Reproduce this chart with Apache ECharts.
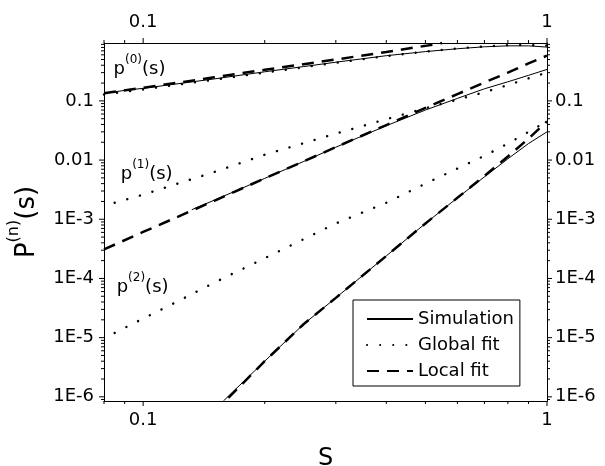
<!DOCTYPE html>
<html>
<head>
<meta charset="utf-8">
<script src="https://cdn.jsdelivr.net/npm/echarts@6/dist/echarts.min.js"></script>
<style>
  html, body { margin: 0; padding: 0; background: #fff; }
  #chart { width: 605px; height: 466px; }
</style>
</head>
<body>
<div id="chart"></div>
<script>
// p(0)(s): simulation, global fit, local fit
const simX0 = [0.08, 0.09, 0.1, 0.12, 0.15, 0.2, 0.25, 0.3, 0.4, 0.5, 0.6, 0.7, 0.8, 0.9, 1.0];
const simY0 = [0.135, 0.15, 0.163, 0.192, 0.235, 0.31, 0.38, 0.45, 0.58, 0.68, 0.76, 0.82, 0.85, 0.85, 0.81];
const gloX0 = [0.08, 0.09, 0.1, 0.12, 0.15, 0.2, 0.25, 0.3, 0.4, 0.5, 0.6, 0.7, 0.8, 0.9, 1.0];
const gloY0 = [0.128, 0.143, 0.156, 0.185, 0.228, 0.3, 0.37, 0.44, 0.57, 0.68, 0.77, 0.83, 0.87, 0.88, 0.86];
const locX0 = [0.08, 0.1, 0.15, 0.2, 0.3, 0.4, 0.5, 0.55];
const locY0 = [0.135, 0.166, 0.25, 0.335, 0.5, 0.67, 0.85, 0.95];

// p(1)(s)
const simX1 = [0.132, 0.15, 0.2, 0.25, 0.3, 0.4, 0.5, 0.6, 0.7, 0.8, 0.9, 1.0];
const simY1 = [1.45e-3, 2.1e-3, 4.9e-3, 9.5e-3, 0.0165, 0.038, 0.07, 0.11, 0.16, 0.21, 0.27, 0.34];
const gloX1 = [0.085, 0.1, 0.15, 0.2, 0.3, 0.4, 0.5, 0.6, 0.7, 0.8, 0.9, 1.0];
const gloY1 = [1.9e-3, 2.6e-3, 6.3e-3, 0.0123, 0.028, 0.049, 0.075, 0.105, 0.14, 0.185, 0.24, 0.3];
const locX1 = [0.08, 0.1, 0.15, 0.2, 0.3, 0.4, 0.5, 0.6, 0.7, 0.8, 0.9, 1.0];
const locY1 = [3.1e-4, 6.1e-4, 2.05e-3, 4.9e-3, 0.0165, 0.039, 0.076, 0.13, 0.205, 0.3, 0.43, 0.58];

// p(2)(s)
const simX2 = [0.158, 0.2, 0.25, 0.3, 0.4, 0.5, 0.6, 0.7, 0.8, 0.9, 1.0];
const simY2 = [8.5e-7, 4e-6, 1.7e-5, 4.7e-5, 2.4e-4, 8.5e-4, 2.3e-3, 5.2e-3, 0.0105, 0.019, 0.03];
const gloX2 = [0.085, 0.1, 0.12, 0.15, 0.2, 0.3, 0.4, 0.5, 0.6, 0.7, 0.8, 0.9, 1.0];
const gloY2 = [1.2e-5, 2.1e-5, 3.9e-5, 8.5e-5, 2.2e-4, 8.5e-4, 1.9e-3, 4e-3, 7.2e-3, 0.0118, 0.019, 0.03, 0.045];
const locX2 = [0.15, 0.2, 0.25, 0.3, 0.4, 0.5, 0.6, 0.7, 0.8, 0.9, 1.0];
const locY2 = [5.5e-7, 4e-6, 1.7e-5, 4.7e-5, 2.4e-4, 8.5e-4, 2.3e-3, 5.4e-3, 0.0115, 0.023, 0.045];

// curve annotations: [n, s, P]
const curveLabels = [
  ['0', 0.0845, 0.39],
  ['1', 0.088, 6.5e-3],
  ['2', 0.086, 8.0e-5]
];

// axis ranges and decade ticks
const xMin = 0.08, xMax = 1;
const yMin = 8.5e-7, yMax = 0.95;
const xDecades = [-2, -1, 0];
const yDecades = [-7, -6, -5, -4, -3, -2, -1, 0];
const legendNames = ['Simulation', 'Global fit', 'Local fit'];

const FONT = 'DejaVu Sans';
const zip = (xs, ys) => xs.map((x, i) => [x, ys[i]]);

function isDecade(v) {
  const e = Math.log10(v);
  return Math.abs(e - Math.round(e)) < 1e-6;
}
function xLabel(v) {
  if (!isDecade(v)) return '';
  const e = Math.round(Math.log10(v));
  return e === 0 ? '1' : Math.pow(10, e).toFixed(-e);
}
function yLabel(v) {
  if (!isDecade(v)) return '';
  const e = Math.round(Math.log10(v));
  if (e >= -2) return e === 0 ? '1' : Math.pow(10, e).toFixed(-e);
  return '1E' + e;
}

// tick values within a range: decades (major) and 2..9 multiples (minor)
function tickValues(decades, lo, hi, major) {
  const out = [];
  decades.forEach(k => {
    for (let m = 1; m <= 9; m++) {
      if ((m === 1) !== major) continue;
      const v = m * Math.pow(10, k);
      if (v >= lo * 0.999999 && v <= hi * 1.000001) out.push(v);
    }
  });
  return out;
}
const MAJOR_LEN = 5, MINOR_LEN = 3;

// ticks drawn as thin rect symbols pushed outward from each frame side
function tickSeries(side, major) {
  const len = major ? MAJOR_LEN : MINOR_LEN;
  const horiz = side === 'bottom' || side === 'top';
  const vals = horiz ? tickValues(xDecades, xMin, xMax, major) : tickValues(yDecades, yMin, yMax, major);
  const data = vals.map(v => {
    if (side === 'bottom') return [v, yMin];
    if (side === 'top') return [v, yMax];
    if (side === 'left') return [xMin, v];
    return [xMax, v];
  });
  const offset = {
    bottom: [0, len / 2], top: [0, -len / 2],
    left: [-len / 2, 0], right: [len / 2, 0]
  }[side];
  return {
    type: 'scatter', name: 'ticks', silent: true, clip: false,
    symbol: 'rect', symbolSize: horiz ? [1, len] : [len, 1], symbolOffset: offset,
    itemStyle: { color: '#000', opacity: 1 },
    data, z: 6
  };
}

const solid = { color: '#000', width: 1, type: 'solid' };
const dotted = { color: '#000', width: 2.4, type: [0.1, 13], cap: 'round' };
const dashed = { color: '#000', width: 2.5, type: [12, 8], cap: 'butt' };

function lineSeries(name, xs, ys, style) {
  return {
    type: 'line', name, data: zip(xs, ys),
    symbol: 'none', showSymbol: false, smooth: false,
    lineStyle: style, itemStyle: { color: '#000' },
    silent: true, z: 3
  };
}

const labelRich = {
  m: { fontFamily: FONT, fontSize: 18, color: '#000', lineHeight: 24, verticalAlign: 'bottom' },
  s: { fontFamily: FONT, fontSize: 12, color: '#000', lineHeight: 12, verticalAlign: 'top' }
};

const axisLabelBase = { fontFamily: FONT, fontSize: 18, color: '#000' };
const axisLineStyle = { show: true, onZero: false, lineStyle: { color: '#000', width: 1 } };

const option = {
  animation: false,
  backgroundColor: '#fff',
  grid: { left: 104, right: 58, top: 43, bottom: 65, containLabel: false, outerBoundsMode: 'none' },
  xAxis: [
    {
      type: 'log', logBase: 10, min: xMin, max: xMax, position: 'bottom',
      axisLine: axisLineStyle, axisTick: { show: false }, splitLine: { show: false },
      axisLabel: Object.assign({ margin: 10, formatter: xLabel }, axisLabelBase),
      name: 'S', nameLocation: 'middle', nameGap: 46,
      nameTextStyle: { fontFamily: FONT, fontSize: 24, color: '#000' }
    },
    {
      type: 'log', logBase: 10, min: xMin, max: xMax, position: 'top',
      axisLine: axisLineStyle, axisTick: { show: false }, splitLine: { show: false },
      axisLabel: Object.assign({ margin: 12, formatter: xLabel }, axisLabelBase)
    }
  ],
  yAxis: [
    {
      type: 'log', logBase: 10, min: yMin, max: yMax, position: 'left',
      axisLine: axisLineStyle, axisTick: { show: false }, splitLine: { show: false },
      axisLabel: Object.assign({ margin: 10, formatter: yLabel }, axisLabelBase),
      name: '{m|P}{s|(n)}{m|(s)}', nameLocation: 'middle', nameRotate: 90, nameGap: 64,
      nameTextStyle: {
        rich: {
          m: { fontFamily: FONT, fontSize: 26, color: '#000', lineHeight: 34, verticalAlign: 'bottom' },
          s: { fontFamily: FONT, fontSize: 16, color: '#000', lineHeight: 16, verticalAlign: 'top' }
        }
      }
    },
    {
      type: 'log', logBase: 10, min: yMin, max: yMax, position: 'right',
      axisLine: axisLineStyle, axisTick: { show: false }, splitLine: { show: false },
      axisLabel: Object.assign({ margin: 8, formatter: yLabel }, axisLabelBase)
    }
  ],
  legend: {
    data: legendNames,
    orient: 'vertical',
    left: 353, top: 300,
    padding: [9, 6, 5, 13],
    itemGap: 6,
    itemWidth: 46, itemHeight: 14,
    borderColor: '#000', borderWidth: 1, borderRadius: 0,
    backgroundColor: '#fff',
    selectedMode: false,
    itemStyle: { color: 'rgba(0,0,0,0)', borderWidth: 0, opacity: 0 },
    textStyle: { fontFamily: FONT, fontSize: 18, color: '#000', lineHeight: 20 }
  },
  series: [
    lineSeries('Simulation', simX0, simY0, solid),
    lineSeries('Simulation', simX1, simY1, solid),
    lineSeries('Simulation', simX2, simY2, solid),
    lineSeries('Global fit', gloX0, gloY0, dotted),
    lineSeries('Global fit', gloX1, gloY1, dotted),
    lineSeries('Global fit', gloX2, gloY2, dotted),
    lineSeries('Local fit', locX0, locY0, dashed),
    lineSeries('Local fit', locX1, locY1, dashed),
    lineSeries('Local fit', locX2, locY2, dashed),
    {
      // curve names p^(n)(s)
      type: 'scatter', name: 'curve names', silent: true,
      symbolSize: 0,
      itemStyle: { opacity: 1, color: '#000' },
      data: curveLabels.map(c => ({ value: [c[1], c[2]], n: c[0] })),
      label: {
        show: true, position: 'inside', align: 'left', verticalAlign: 'middle',
        color: '#000', opacity: 1,
        formatter: p => '{m|p}{s|(' + p.data.n + ')}{m|(s)}',
        rich: labelRich
      },
      z: 4
    },
    tickSeries('bottom', true), tickSeries('bottom', false),
    tickSeries('top', true), tickSeries('top', false),
    tickSeries('left', true), tickSeries('left', false),
    tickSeries('right', true), tickSeries('right', false)
  ]
};

const chart = echarts.init(document.getElementById('chart'), null, { renderer: 'canvas' });
chart.setOption(option);
</script>
</body>
</html>
